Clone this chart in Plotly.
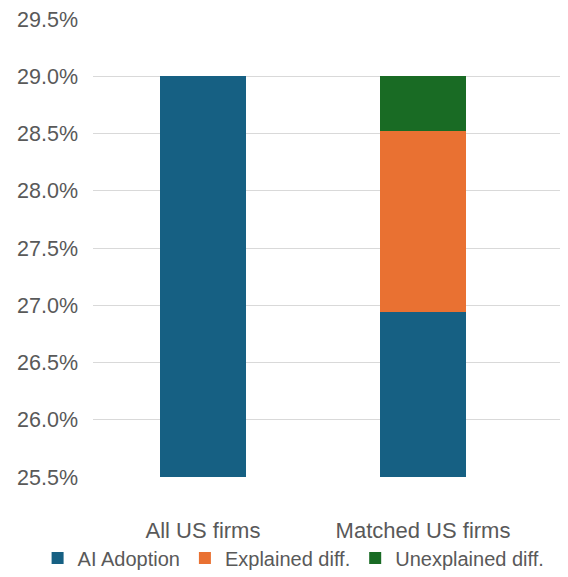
import plotly.graph_objects as go

# dados
categorias = ["All US firms", "Matched US firms"]
ai_adoption = [0.290, 0.2694]
explicado = [None, 0.0158]
nao_explicado = [None, 0.0048]

fonte = "Liberation Sans, Arial, sans-serif"
cinza = "#595959"

fig = go.Figure()
fig.add_trace(go.Bar(x=categorias, y=ai_adoption, name="AI Adoption",
                     marker_color="#166083", width=0.395))
fig.add_trace(go.Bar(x=categorias, y=explicado, name="Explained diff.",
                     marker_color="#E97132", width=0.395))
fig.add_trace(go.Bar(x=categorias, y=nao_explicado, name="Unexplained diff.",
                     marker_color="#196B24", width=0.395))

fig.update_traces(marker_line_width=0, hoverinfo="skip")

# a página tem margem de 8px no body, então a figura é 8px menor
fig.update_layout(
    barmode="stack",
    width=560, height=569,
    margin=dict(l=0, r=0, t=11, b=100, autoexpand=False),
    plot_bgcolor="white", paper_bgcolor="white",
    font=dict(family=fonte, size=22, color=cinza),
    xaxis=dict(domain=[85 / 560, 1], range=[-0.5, 1.659], showgrid=False,
               showline=False, ticks="", automargin=False,
               ticklabelstandoff=38,
               tickfont=dict(size=22, color=cinza)),
    yaxis=dict(range=[0.255, 0.295], dtick=0.005, tick0=0.255,
               tickformat=".1%", gridcolor="#D9D9D9", gridwidth=1.3,
               zeroline=False, showline=False, ticks="", automargin=False,
               ticklabelstandoff=14, ticklabeloverflow="allow",
               tickfont=dict(size=21.5, color=cinza)),
    legend=dict(orientation="h", x=0.51, xanchor="center", y=-0.177,
                yanchor="middle", font=dict(size=20, color=cinza),
                itemwidth=30, traceorder="normal"),
)

fig.write_html("out.html")
